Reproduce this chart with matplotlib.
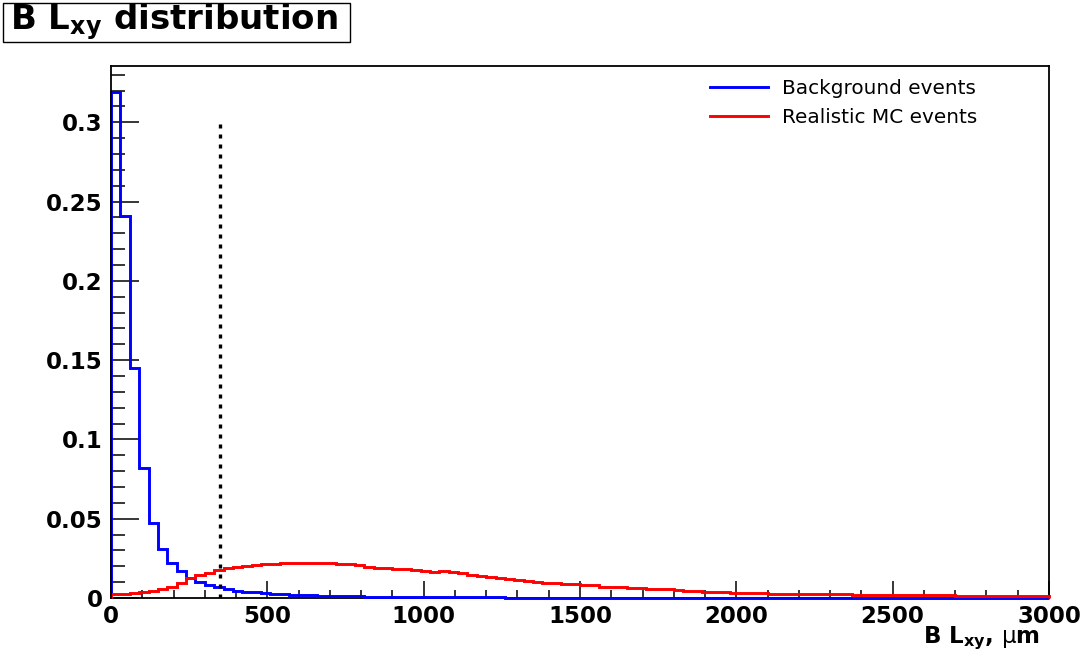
import numpy as np
import matplotlib
matplotlib.use('Agg')
import matplotlib.pyplot as plt
from matplotlib.patches import Rectangle

# 100 bins of 30 um from 0 to 3000
bin_edges = np.linspace(0, 3000, 101)

background = [0.319, 0.241, 0.145, 0.082, 0.0475, 0.031, 0.0223, 0.0172, 0.0124, 0.0103,
              0.0082, 0.0067, 0.0055, 0.0046, 0.0040, 0.0036, 0.0032, 0.0028, 0.0025, 0.0022,
              0.0019, 0.0017, 0.0015, 0.0013, 0.0012, 0.0011, 0.0010, 0.0009, 0.0009, 0.0008,
              0.0008, 0.0007, 0.0007, 0.0006, 0.0006, 0.0006, 0.0005, 0.0005, 0.0004, 0.0004,
              0.0004, 0.0004, 0.0003, 0.0003, 0.0003, 0.0003, 0.0003, 0.0002, 0.0002, 0.0003,
              0.0002, 0.0002, 0.0002, 0.0002, 0.0002, 0.0001, 0.0002, 0.0001, 0.0001, 0.0002,
              0.0001, 0.0001, 0.0001, 0.0001, 0.0001, 0.0001, 0.0001, 0.0001, 0.0001, 0.0001,
              0.0001, 0.0001, 0.0001, 0.0001, 0.0001, 0.0001, 0.0001, 0.0001, 0.0001, 0.0001,
              0.0001, 0.0001, 0.0001, 0.0001, 0.0001, 0.0001, 0.0001, 0.0001, 0.0001, 0.0001,
              0.0001, 0.0001, 0.0001, 0.0001, 0.0001, 0.0001, 0.0001, 0.0001, 0.0001, 0.0001]

realistic_mc = [0.0023, 0.0026, 0.0030, 0.0035, 0.0042, 0.0055, 0.0072, 0.0095, 0.0125, 0.0145,
                0.0160, 0.0175, 0.0190, 0.0198, 0.0202, 0.0205, 0.0212, 0.0215, 0.0218, 0.0218,
                0.0220, 0.0220, 0.0221, 0.0220, 0.0216, 0.0212, 0.0205, 0.0198, 0.0192, 0.0188,
                0.0185, 0.0180, 0.0177, 0.0172, 0.0166, 0.0168, 0.0166, 0.0156, 0.0148, 0.0140,
                0.0132, 0.0126, 0.0122, 0.0115, 0.0110, 0.0102, 0.0095, 0.0093, 0.0088, 0.0086,
                0.0081, 0.0079, 0.0072, 0.0071, 0.0070, 0.0064, 0.0062, 0.0056, 0.0055, 0.0054,
                0.0048, 0.0046, 0.0041, 0.0040, 0.0035, 0.0035, 0.0034, 0.0030, 0.0031, 0.0030,
                0.0026, 0.0026, 0.0025, 0.0028, 0.0027, 0.0028, 0.0025, 0.0024, 0.0025, 0.0020,
                0.0021, 0.0019, 0.0022, 0.0021, 0.0019, 0.0018, 0.0019, 0.0016, 0.0017, 0.0016,
                0.0014, 0.0015, 0.0013, 0.0014, 0.0013, 0.0012, 0.0013, 0.0012, 0.0011, 0.0012]

cut_value = 350
cut_height = 0.3

x_ticks = [0, 500, 1000, 1500, 2000, 2500, 3000]
y_ticks = [0, 0.05, 0.1, 0.15, 0.2, 0.25, 0.3]
y_tick_labels = ['0', '0.05', '0.1', '0.15', '0.2', '0.25', '0.3']

W, H = 1087, 658
fig = plt.figure(figsize=(W / 100, H / 100), dpi=100)
ax = fig.add_axes([111 / W, 1 - 598 / H, (1049 - 111) / W, (598 - 66) / H])

ax.stairs(background, bin_edges, color='#0000ff', linewidth=2.1, label='Background events',
          zorder=3, clip_on=False)
ax.stairs(realistic_mc, bin_edges, color='#ff0000', linewidth=2.1, label='Realistic MC events',
          zorder=3, clip_on=False)
ax.plot([cut_value, cut_value], [0, cut_height], color='black', linewidth=2.4,
        linestyle=(0, (1.2, 1.8)), zorder=4)

ax.set_xlim(0, 3000)
ax.set_ylim(0, 0.3355)

ax.set_xticks(x_ticks)
ax.set_xticks(np.arange(0, 3001, 100), minor=True)
ax.set_yticks(y_ticks)
ax.set_yticklabels(y_tick_labels)
ax.set_yticks(np.arange(0, 0.335, 0.01), minor=True)

ax.tick_params(axis='both', which='both', direction='in', top=False, right=False,
               labelsize=16.5, width=1.1, color='black')
ax.tick_params(axis='x', which='major', length=12, pad=5)
ax.tick_params(axis='x', which='minor', length=6)
ax.tick_params(axis='y', which='major', length=20, pad=6)
ax.tick_params(axis='y', which='minor', length=10)
for lab in ax.get_xticklabels() + ax.get_yticklabels():
    lab.set_fontweight('bold')

for side in ['left', 'bottom', 'top', 'right']:
    ax.spines[side].set_linewidth(1.3)
    ax.spines[side].set_color('black')
# keep the y axis line black over the first bin edge
ax.spines['left'].set_zorder(5)

ax.legend(loc='center left', bbox_to_anchor=(710 / W, 1 - 102.7 / H),
          bbox_transform=fig.transFigure, frameon=False, fontsize=14.4,
          handlelength=2.9, handletextpad=0.7, labelspacing=0.5,
          borderpad=0, borderaxespad=0)

# axis title at bottom right
fig.text(1040 / W, 1 - 643 / H, r'B L$_{\mathbf{xy}}$, $\mathrm{\mu}$m', ha='right',
         va='baseline', fontsize=16.5, fontweight='bold')

# boxed title
fig.patches.append(Rectangle((3 / W, 1 - 42 / H), 347 / W, 39 / H, transform=fig.transFigure,
                             fill=False, edgecolor='black', linewidth=1.0))
fig.text(10 / W, 1 - 29 / H, r'B L$_{\mathbf{xy}}$ distribution', ha='left', va='baseline',
         fontsize=24.5, fontweight='bold')

plt.savefig('out.png', dpi=100)
